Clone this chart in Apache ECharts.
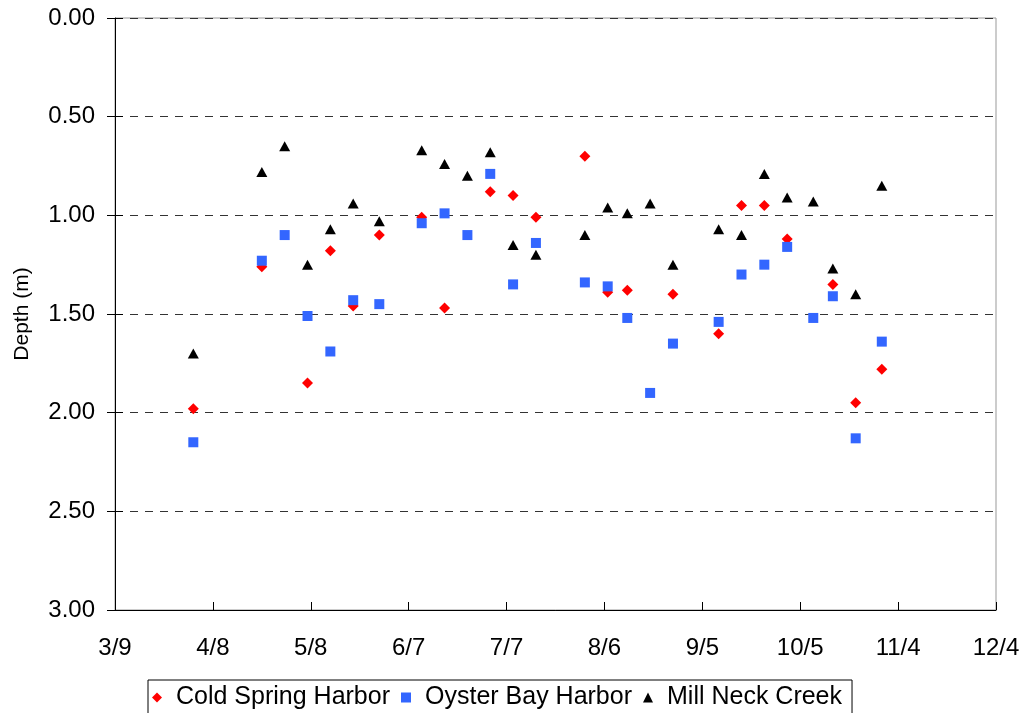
<!DOCTYPE html>
<html><head><meta charset="utf-8">
<script src="https://cdn.jsdelivr.net/npm/echarts@6/dist/echarts.min.js"></script>
<style>html,body{margin:0;padding:0;background:#fff}#c{width:1024px;height:713px}</style>
</head><body><div id="c"></div>
<script>
// Sampling dates (M/D)
const dates = ['4/2','4/23','4/30','5/7','5/14','5/21','5/29','6/11','6/18','6/25','7/2','7/9','7/16','7/31','8/7','8/13','8/20','8/27','9/10','9/17','9/24','10/1','10/9','10/15','10/22','10/30'];
// Depth (m) per site; null = no reading
const coldSpring = [1.98,1.26,null,1.85,1.18,1.46,1.10,1.01,1.47,null,0.88,0.90,1.01,0.70,1.39,1.38,null,1.40,1.60,0.95,0.95,1.12,null,1.35,1.95,1.78];
const oysterBay  = [2.15,1.23,1.10,1.51,1.69,1.43,1.45,1.04,0.99,1.10,0.79,1.35,1.14,1.34,1.36,1.52,1.90,1.65,1.54,1.30,1.25,1.16,1.52,1.41,2.13,1.64];
const millNeck   = [1.70,0.78,0.65,1.25,1.07,0.94,1.03,0.67,0.74,0.80,0.68,1.15,1.20,1.10,0.96,0.99,0.94,1.25,1.07,1.10,0.79,0.91,0.93,1.27,1.40,0.85];
// X tick labels, one every 30 days starting 3/9
const xTicks = ['3/9','4/8','5/8','6/7','7/7','8/6','9/5','10/5','11/4','12/4'];
const yTicks = [0, 0.5, 1, 1.5, 2, 2.5, 3];
const seriesNames = ['Cold Spring Harbor','Oyster Bay Harbor','Mill Neck Creek'];

function dayOf(md){
  const p = md.split('/').map(Number);
  return Math.round((Date.UTC(2001,p[0]-1,p[1]) - Date.UTC(2001,2,9))/86400000);
}
function pts(vals){
  const out = [];
  dates.forEach((d,i)=>{ if(vals[i]!=null) out.push([dayOf(d), vals[i]]); });
  return out;
}
const FONT = '"Liberation Sans", Arial, sans-serif';
const chart = echarts.init(document.getElementById('c'));
const yBase = {type:'value', min:yTicks[0], max:yTicks[yTicks.length-1], interval:0.5, inverse:true, position:'left'};
chart.setOption({
  animation:false,
  backgroundColor:'#fff',
  grid:{left:115, top:18, right:28, bottom:103, containLabel:false, outerBoundsMode:'none',
        show:true, borderColor:'#999', borderWidth:1, backgroundColor:'transparent'},
  xAxis:{type:'value', min:0, max:270, interval:30,
    axisLine:{onZero:false, lineStyle:{color:'#000', width:1}},
    axisTick:{inside:true, length:8, lineStyle:{color:'#000'}},
    axisLabel:{color:'#000', fontFamily:FONT, fontSize:24, margin:26, formatter:v=>xTicks[Math.round(v/30)]},
    splitLine:{show:false}},
  yAxis:[
    Object.assign({}, yBase, {
      name:'Depth (m)', nameLocation:'middle', nameGap:82, nameRotate:90,
      nameTextStyle:{color:'#000', fontFamily:FONT, fontSize:21},
      axisLine:{lineStyle:{color:'#000', width:1}},
      axisTick:{length:8, lineStyle:{color:'#000'}},
      axisLabel:{color:'#000', fontFamily:FONT, fontSize:24, margin:20, formatter:v=>v.toFixed(2)},
      splitLine:{show:true, lineStyle:{color:'#333', width:1, type:[8,7]}}
    }),
    Object.assign({}, yBase, {
      axisLine:{show:false},
      axisTick:{inside:true, length:8, lineStyle:{color:'#000'}},
      axisLabel:{show:false}, splitLine:{show:false}
    })
  ],
  legend:{
    left:148, top:680, orient:'horizontal',
    padding:[5,10,5,4], itemGap:11, itemWidth:10, itemHeight:10,
    borderColor:'#000', borderWidth:1, backgroundColor:'#fff',
    textStyle:{color:'#000', fontFamily:FONT, fontSize:25, padding:[0,0,0,9]},
    data:[{name:seriesNames[0], icon:'diamond'},{name:seriesNames[1], icon:'rect'},{name:seriesNames[2], icon:'triangle'}]
  },
  series:[
    {name:seriesNames[0], type:'scatter', symbol:'diamond', symbolSize:11, itemStyle:{color:'#ff0000', opacity:1}, data:pts(coldSpring)},
    {name:seriesNames[1], type:'scatter', symbol:'rect', symbolSize:10, itemStyle:{color:'#3366ff', opacity:1}, data:pts(oysterBay)},
    {name:seriesNames[2], type:'scatter', symbol:'triangle', symbolSize:[11,10], itemStyle:{color:'#000', opacity:1}, data:pts(millNeck)}
  ]
});
</script></body></html>
